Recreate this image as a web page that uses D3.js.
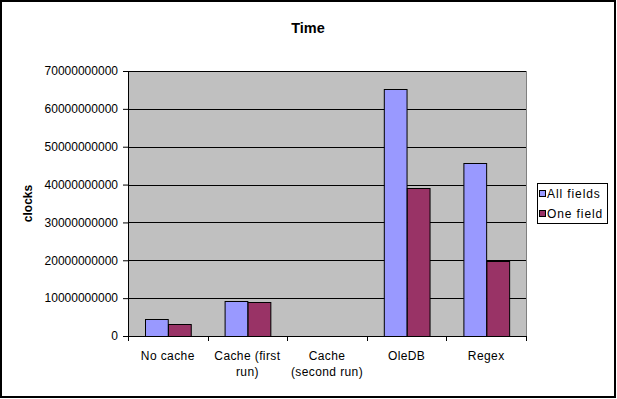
<!DOCTYPE html>
<html>
<head>
<meta charset="utf-8">
<script src="https://cdn.jsdelivr.net/npm/d3@7"></script>
<style>
  body { margin: 0; background: #fff; }
  text { font-family: "Liberation Sans", Arial, sans-serif; }
</style>
</head>
<body>
<div id="chart"></div>
<script>
// Chart data
const categories = ["No cache", "Cache (first run)", "Cache (second run)", "OleDB", "Regex"];
const seriesNames = ["All fields", "One field"];
const allFields = [4.4e9, 9.3e9, 0, 65.2e9, 45.6e9];
const oneField = [3.1e9, 9.1e9, 0, 39.0e9, 19.8e9];
const yTicks = [0, 10e9, 20e9, 30e9, 40e9, 50e9, 60e9, 70e9];
const colors = ["#9999FF", "#993366"];

const W = 617, H = 399;
// plot area box
const plot = {left: 128, right: 526, top: 71, bottom: 336};

const svg = d3.select("#chart")
  .append("svg")
    .attr("width", W)
    .attr("height", H);

// outer chart border
svg.append("rect")
    .attr("x", 1).attr("y", 1)
    .attr("width", 614).attr("height", 396)
    .attr("fill", "#fff")
    .attr("stroke", "#000")
    .attr("stroke-width", 2);

// Title
svg.append("text")
    .attr("x", 308)
    .attr("y", 32.5)
    .attr("text-anchor", "middle")
    .style("font-size", "14.5px")
    .style("font-weight", "bold")
    .text("Time");

// Scales
const x0 = d3.scaleBand()
    .domain(categories)
    .range([plot.left, plot.right])
    .padding(0);

// Excel gap width 150% -> 0.75 bar on each side
const x1 = d3.scaleBand()
    .domain(seriesNames)
    .range([0, x0.bandwidth()])
    .paddingInner(0)
    .paddingOuter(0.75);

const y = d3.scaleLinear()
    .domain([0, 70e9])
    .range([plot.bottom, plot.top]);

// Plot area background
svg.append("rect")
    .attr("x", plot.left)
    .attr("y", plot.top)
    .attr("width", plot.right - plot.left)
    .attr("height", plot.bottom - plot.top)
    .attr("fill", "#C0C0C0")
    .attr("stroke", "#808080")
    .attr("stroke-width", 1)
    .attr("shape-rendering", "crispEdges");

// Gridlines
svg.append("g")
  .selectAll("line")
  .data(yTicks.slice(1))
  .join("line")
    .attr("x1", plot.left)
    .attr("x2", plot.right)
    .attr("y1", d => Math.round(y(d)) + 0.5)
    .attr("y2", d => Math.round(y(d)) + 0.5)
    .attr("stroke", "#000");

// Bars
const table = categories.map((c, i) => ({cat: c, values: [allFields[i], oneField[i]]}));

svg.append("g")
  .selectAll("g")
  .data(table)
  .join("g")
    .attr("transform", d => `translate(${x0(d.cat)},0)`)
  .selectAll("rect")
  .data(d => d.values.map((v, j) => ({name: seriesNames[j], value: v, j: j})).filter(d => d.value > 0))
  .join("rect")
    .attr("x", d => Math.round(x1(d.name)) + 0.5)
    .attr("y", d => Math.round(y(d.value)) + 0.5)
    .attr("width", x1.bandwidth())
    .attr("height", d => Math.round(y(0)) - Math.round(y(d.value)))
    .attr("fill", d => colors[d.j])
    .attr("stroke", "#000")
    .attr("stroke-width", 1);

// Y axis
svg.append("g")
    .attr("transform", `translate(${plot.left},0)`)
    .call(d3.axisLeft(y).tickValues(yTicks).tickFormat(d3.format("d")).tickSize(5).tickPadding(5))
    .call(g => g.selectAll("text").style("font-size", "12px").style("fill", "#000"))
    .call(g => g.selectAll("line,path").attr("stroke", "#000"));

// X axis
const xAxis = svg.append("g")
    .attr("transform", `translate(0,${plot.bottom})`);

xAxis.append("line")
    .attr("x1", plot.left).attr("x2", plot.right)
    .attr("y1", 0.5).attr("y2", 0.5)
    .attr("stroke", "#000");

xAxis.selectAll("line.tick")
  .data(categories.concat(["end"]))
  .join("line")
    .attr("class", "tick")
    .attr("x1", (d, i) => Math.round(plot.left + i * x0.step()) + 0.5)
    .attr("x2", (d, i) => Math.round(plot.left + i * x0.step()) + 0.5)
    .attr("y1", 0)
    .attr("y2", 5)
    .attr("stroke", "#000");

// Category labels, wrapped like Excel
const labels = xAxis.selectAll("text")
  .data(categories)
  .join("text")
    .attr("x", d => x0(d) + x0.bandwidth() / 2)
    .attr("y", 24)
    .attr("text-anchor", "middle")
    .style("font-size", "12px")
    .style("letter-spacing", "0.4px")
    .text(d => d);

labels.each(function(d) {
    const el = d3.select(this);
    const words = d.split(" ");
    const cx = +el.attr("x");
    el.text(null);
    let line = [];
    let tspan = el.append("tspan").attr("x", cx).attr("dy", 0);
    words.forEach(w => {
        line.push(w);
        tspan.text(line.join(" "));
        if (tspan.node().getComputedTextLength() > 78 && line.length > 1) {
            line.pop();
            tspan.text(line.join(" "));
            line = [w];
            tspan = el.append("tspan").attr("x", cx).attr("dy", 16).text(w);
        }
    });
});

// Y axis title
svg.append("text")
    .attr("transform", `translate(32,${(plot.top + plot.bottom) / 2}) rotate(-90)`)
    .attr("text-anchor", "middle")
    .style("font-size", "12px")
    .style("font-weight", "bold")
    .text("clocks");

// Legend
const legend = svg.append("g");
legend.append("rect")
    .attr("x", 537.5).attr("y", 183.5)
    .attr("width", 70).attr("height", 40)
    .attr("fill", "#fff")
    .attr("stroke", "#000");

const items = legend.selectAll("g.item")
  .data(seriesNames)
  .join("g")
    .attr("class", "item")
    .attr("transform", (d, i) => `translate(0,${i * 20})`);

items.append("rect")
    .attr("x", 539.5).attr("y", 190.5)
    .attr("width", 6).attr("height", 6)
    .attr("fill", (d, i) => colors[i])
    .attr("stroke", "#000");

items.append("text")
    .attr("x", 547)
    .attr("y", 197.5)
    .style("font-size", "12px")
    .style("letter-spacing", "0.9px")
    .text(d => d);
</script>
</body>
</html>
